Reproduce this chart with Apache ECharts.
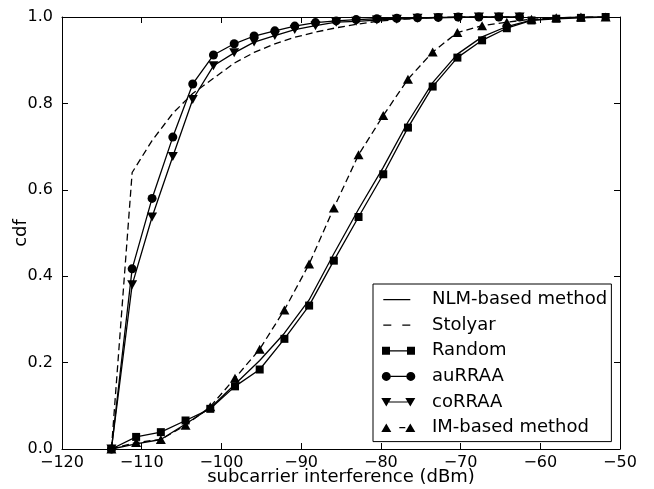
<!DOCTYPE html>
<html>
<head>
<meta charset="utf-8">
<script src="https://cdn.jsdelivr.net/npm/echarts@6/dist/echarts.min.js"></script>
<style>html,body{margin:0;padding:0;background:#fff;}#c{width:654px;height:489px;}</style>
</head>
<body>
<div id="c"></div>
<script>
// x grids (dBm)
const xGridA = [-113.8, -110.7, -107.6, -104.5, -101.4, -98.3, -95.2, -92.1, -89.0, -85.9, -82.8, -79.7, -76.6, -73.5, -70.4, -67.3, -64.2, -61.1, -58.0, -54.9, -51.8];
const xGridB = [-113.8, -111.2, -108.7, -106.1, -103.6, -101.0, -98.4, -95.9, -93.3, -90.8, -88.2, -85.6, -83.1, -80.5, -78.0, -75.4, -72.8, -70.3, -67.7, -65.2, -62.6];

// cdf values
const nlmVals     = [0, 0.012, 0.022, 0.058, 0.095, 0.150, 0.205, 0.268, 0.345, 0.452, 0.555, 0.652, 0.757, 0.848, 0.914, 0.954, 0.978, 0.993, 0.998, 1, 1];
const stolyarVals = [0, 0.640, 0.714, 0.777, 0.823, 0.858, 0.893, 0.918, 0.938, 0.953, 0.965, 0.975, 0.983, 0.990, 0.994, 0.997, 0.999, 1, 1, 1, 1];
const randomVals  = [0, 0.028, 0.039, 0.066, 0.093, 0.145, 0.184, 0.255, 0.332, 0.436, 0.537, 0.636, 0.744, 0.839, 0.906, 0.946, 0.974, 0.992, 0.996, 0.998, 1.0];
const auRRAAVals  = [0, 0.417, 0.580, 0.722, 0.845, 0.912, 0.938, 0.956, 0.968, 0.979, 0.987, 0.991, 0.994, 0.996, 0.997, 0.998, 0.999, 1, 1, 1, 1];
const coRRAAVals  = [0, 0.380, 0.537, 0.677, 0.809, 0.887, 0.917, 0.942, 0.957, 0.971, 0.980, 0.988, 0.990, 0.993, 0.995, 0.997, 0.998, 0.999, 1, 1, 1];
const imVals      = [0, 0.015, 0.022, 0.055, 0.098, 0.164, 0.231, 0.322, 0.428, 0.558, 0.681, 0.772, 0.856, 0.919, 0.964, 0.980, 0.988, 0.995, 0.998, 1, 1];

const seriesNames = ['NLM-based method', 'Stolyar', 'Random', 'auRRAA', 'coRRAA', 'IM-based method'];
const xTicks = { min: -120, max: -50, interval: 10 };
const yTicks = { min: 0, max: 1, interval: 0.2 };

function pairs(xs, ys) { return xs.map((x, i) => [x, ys[i]]); }
const FONT = 'DejaVu Sans';
const minus = v => (v < 0 ? '\u2212' : '') + Math.abs(v);

// matplotlib-like legend handles (34x10 box; tiny corner anchors fix the box)
const ANCH = 'M0,0 L0.01,0 L0,0.01 Z M34,10 L33.99,10 L34,9.99 Z ';
const seg = (a, b) => `M${a},4.4 L${b},4.4 L${b},5.6 L${a},5.6 Z `;
const sq = c => `M${c - 4},1 L${c + 4},1 L${c + 4},9 L${c - 4},9 Z `;
const circ = c => `M${c - 4.5},5 A4.5,4.5 0 1,0 ${c + 4.5},5 A4.5,4.5 0 1,0 ${c - 4.5},5 Z `;
const tdn = c => `M${c - 5},1 L${c + 5},1 L${c},9.5 Z `;
const tup = c => `M${c - 5},9.5 L${c + 5},9.5 L${c},1 Z `;
const legendIcons = [
  ANCH + seg(2, 29),
  ANCH + seg(2, 10) + seg(21, 29),
  ANCH + sq(4.7) + seg(8.7, 25.7) + sq(29.7),
  ANCH + circ(5) + seg(9.5, 25) + circ(29.5),
  ANCH + tdn(5) + seg(7.6, 26.4) + tdn(29),
  ANCH + tup(5) + seg(18, 24) + tup(29)
].map(p => 'path://' + p);

const chart = echarts.init(document.getElementById('c'), null, { renderer: 'canvas' });
const lineBase = { color: '#000', width: 1.3 };
const triDown = 'path://M0,0 L10,0 L5,9 Z';

const axisCommon = {
  axisLine: { show: true, onZero: false, lineStyle: { color: '#000', width: 1 } },
  axisTick: { show: true, inside: true, length: 6, lineStyle: { color: '#000', width: 1 } },
  splitLine: { show: false }
};

chart.setOption({
  animation: false,
  backgroundColor: '#fff',
  grid: { left: 62, right: 34, top: 17, bottom: 40, containLabel: false, outerBoundsMode: 'none' },
  xAxis: [
    Object.assign({ type: 'value', position: 'bottom', min: xTicks.min, max: xTicks.max, interval: xTicks.interval,
      name: 'subcarrier interference (dBm)', nameLocation: 'middle', nameGap: 19, nameMoveOverlap: false,
      nameTextStyle: { fontFamily: FONT, fontSize: 18, color: '#000' },
      axisLabel: { formatter: minus, fontFamily: FONT, fontSize: 16, color: '#000', margin: 6 } }, axisCommon),
    Object.assign({ type: 'value', position: 'top', min: xTicks.min, max: xTicks.max, interval: xTicks.interval,
      axisLabel: { show: false } }, axisCommon)
  ],
  yAxis: [
    Object.assign({ type: 'value', position: 'left', min: yTicks.min, max: yTicks.max, interval: yTicks.interval,
      name: 'cdf', nameLocation: 'middle', nameGap: 32, nameMoveOverlap: false,
      nameTextStyle: { fontFamily: FONT, fontSize: 18, color: '#000' },
      axisLabel: { formatter: v => v.toFixed(1), fontFamily: FONT, fontSize: 16, color: '#000', margin: 9 } }, axisCommon),
    Object.assign({ type: 'value', position: 'right', min: yTicks.min, max: yTicks.max, interval: yTicks.interval,
      axisLabel: { show: false } }, axisCommon)
  ],
  legend: {
    orient: 'vertical', left: 373, top: 284,
    padding: [6.6, 4.3, 5, 8.3],
    itemGap: 7.6, itemWidth: 34, itemHeight: 10,
    borderColor: '#000', borderWidth: 1, backgroundColor: '#fff',
    itemStyle: { color: '#000', borderWidth: 0 },
    textStyle: { fontFamily: FONT, fontSize: 18, color: '#000', lineHeight: 18, padding: [0, 0, 0, 11.7] },
    data: seriesNames.map((n, i) => ({ name: n, icon: legendIcons[i] }))
  },
  series: [
    { name: seriesNames[0], type: 'line', data: pairs(xGridA, nlmVals), symbol: 'none', lineStyle: lineBase, itemStyle: { color: '#000' } },
    { name: seriesNames[1], type: 'line', data: pairs(xGridB, stolyarVals), symbol: 'none', lineStyle: Object.assign({}, lineBase, { type: [7, 4] }), itemStyle: { color: '#000' } },
    { name: seriesNames[2], type: 'line', data: pairs(xGridA, randomVals), symbol: 'rect', symbolSize: 8, lineStyle: lineBase, itemStyle: { color: '#000' } },
    { name: seriesNames[3], type: 'line', data: pairs(xGridB, auRRAAVals), symbol: 'circle', symbolSize: 9, lineStyle: lineBase, itemStyle: { color: '#000' } },
    { name: seriesNames[4], type: 'line', data: pairs(xGridB, coRRAAVals), symbol: triDown, symbolSize: [10, 9], lineStyle: lineBase, itemStyle: { color: '#000' } },
    { name: seriesNames[5], type: 'line', data: pairs(xGridA, imVals), symbol: 'triangle', symbolSize: [10, 9], lineStyle: Object.assign({}, lineBase, { type: [7, 4] }), itemStyle: { color: '#000' } }
  ]
});
</script>
</body>
</html>
